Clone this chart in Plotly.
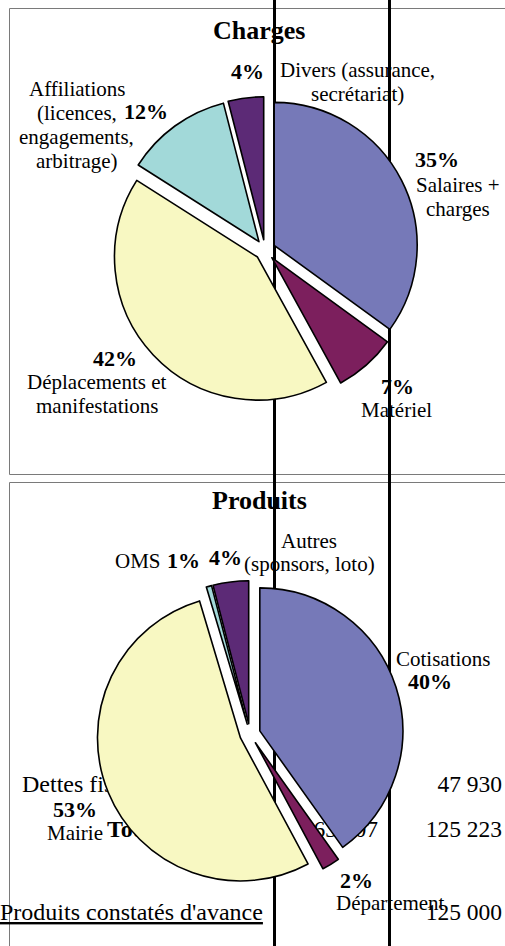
import plotly.graph_objects as go

# ---------------- data ----------------
charges_labels = ["Salaires +<br>charges", "Matériel", "Déplacements et<br>manifestations",
                  "Affiliations<br>(licences,<br>engagements,<br>arbitrage)",
                  "Divers (assurance,<br>secrétariat)"]
charges_values = [35, 7, 42, 12, 4]

produits_labels = ["Cotisations", "Département", "Mairie", "OMS", "Autres<br>(sponsors, loto)"]
produits_values = [40, 2, 53, 0.6, 4]

bg_left_texts = ["Dettes fiscales", "<b>Total</b>", "<u>Produits constatés d'avance</u>"]
bg_mid_values = ["", "63 307", ""]
bg_right_values = ["47 930", "125 223", "125 000"]

slice_colors = ["#7679B8", "#7C1F5D", "#F8F8C2", "#A2D9D9", "#5C2A76"]

# ---------------- layout constants ----------------
W, H = 505, 946
FONT = "Liberation Serif"
RADIUS = 143
PULL = 0.072
LBL = 21
PCT = 22
BG = 23.5
BG_LEFT = 24


def pie_domain(cx, cy):
    half = RADIUS * (1 + PULL)
    return dict(x=[(cx - half) / W, (cx + half) / W],
                y=[1 - (cy + half) / H, 1 - (cy - half) / H])


def ann(text, x, baseline, size, bold=False, xanchor="center"):
    if bold:
        text = "<b>" + text + "</b>"
    return dict(x=x, y=baseline - 0.34 * size, xref="x", yref="y", text=text,
                showarrow=False, xanchor=xanchor, yanchor="middle",
                font=dict(family=FONT, size=size, color="black"))


def pct(values):
    tot = sum(values)
    return ["%d%%" % round(v / tot * 100) for v in values]


fig = go.Figure()

# background spreadsheet cells (drawn under the pies)
row_baselines = [792, 837, 920]
left_x = [22, 107, 0]
fig.add_trace(go.Scatter(x=left_x, y=[b - 0.25 * BG_LEFT for b in row_baselines],
                         text=bg_left_texts, mode="text", textposition="middle right",
                         textfont=dict(family=FONT, size=BG_LEFT, color="black"),
                         hoverinfo="skip", showlegend=False))
fig.add_trace(go.Scatter(x=[378] * 3, y=[b - 0.25 * BG for b in row_baselines],
                         text=bg_mid_values, mode="text", textposition="middle left",
                         textfont=dict(family=FONT, size=BG, color="black"),
                         hoverinfo="skip", showlegend=False))
fig.add_trace(go.Scatter(x=[502] * 3, y=[b - 0.25 * BG for b in row_baselines],
                         text=bg_right_values, mode="text", textposition="middle left",
                         textfont=dict(family=FONT, size=BG, color="black"),
                         hoverinfo="skip", showlegend=False))

# pies
for labels, values, center in [(charges_labels, charges_values, (265, 250)),
                               (produits_labels, produits_values, (250, 734))]:
    fig.add_trace(go.Pie(labels=[l.replace("<br>", " ") for l in labels], values=values,
                         sort=False, direction="clockwise", rotation=0,
                         pull=[PULL] * len(values), textinfo="none", hoverinfo="skip",
                         marker=dict(colors=slice_colors, line=dict(color="black", width=1.6)),
                         domain=pie_domain(*center), showlegend=False))

annotations = []
annotations.append(ann("Charges", 259, 39, 26, bold=True))
annotations.append(ann("Produits", 259, 509, 26, bold=True))

# charges labels: (pct x, pct baseline, text x, first baseline)
cp = pct(charges_values)
charges_pos = [(437, 167, 458, 192), (397, 394, 396, 417), (115, 366, 97, 389),
               (146, 119, 76.5, 96), (247, 79, 357, 77)]
for lab, p, (px, pb, tx, tb) in zip(charges_labels, cp, charges_pos):
    annotations.append(ann(p, px, pb, PCT, bold=True))
    for i, line in enumerate(lab.split("<br>")):
        annotations.append(ann(line, tx, tb + 24 * i, LBL))

pp = pct(produits_values)
produits_pos = [(430, 689, 443, 666), (356, 888, 390, 910), (75, 817, 75, 840),
                (183.5, 568, 137.5, 568), (225.5, 565, 309, 548)]
for lab, p, (px, pb, tx, tb) in zip(produits_labels, pp, produits_pos):
    annotations.append(ann(p, px, pb, PCT, bold=True))
    for i, line in enumerate(lab.split("<br>")):
        annotations.append(ann(line, tx, tb + 23 * i, LBL))

shapes = [
    dict(type="rect", xref="x", yref="y", x0=9.5, y0=8.5, x1=515, y1=474.5,
         line=dict(color="#7a7a7a", width=1), fillcolor="rgba(0,0,0,0)", layer="below"),
    dict(type="rect", xref="x", yref="y", x0=9.5, y0=482.5, x1=515, y1=960,
         line=dict(color="#7a7a7a", width=1), fillcolor="rgba(0,0,0,0)", layer="below"),
    dict(type="line", xref="x", yref="y", x0=274.5, x1=274.5, y0=-5, y1=955,
         line=dict(color="black", width=3), layer="below"),
    dict(type="line", xref="x", yref="y", x0=389.5, x1=389.5, y0=-5, y1=955,
         line=dict(color="black", width=3), layer="below"),
]

fig.update_layout(
    width=W, height=H, margin=dict(l=0, r=0, t=0, b=0),
    paper_bgcolor="white", plot_bgcolor="rgba(0,0,0,0)",
    xaxis=dict(range=[0, W], visible=False, fixedrange=True),
    yaxis=dict(range=[H, 0], visible=False, fixedrange=True),
    annotations=annotations, shapes=shapes, showlegend=False,
    font=dict(family=FONT, color="black"),
)

fig.write_html("out.html", config={"displayModeBar": False},
               post_script="document.body.style.margin='0';document.body.style.overflow='hidden';")
